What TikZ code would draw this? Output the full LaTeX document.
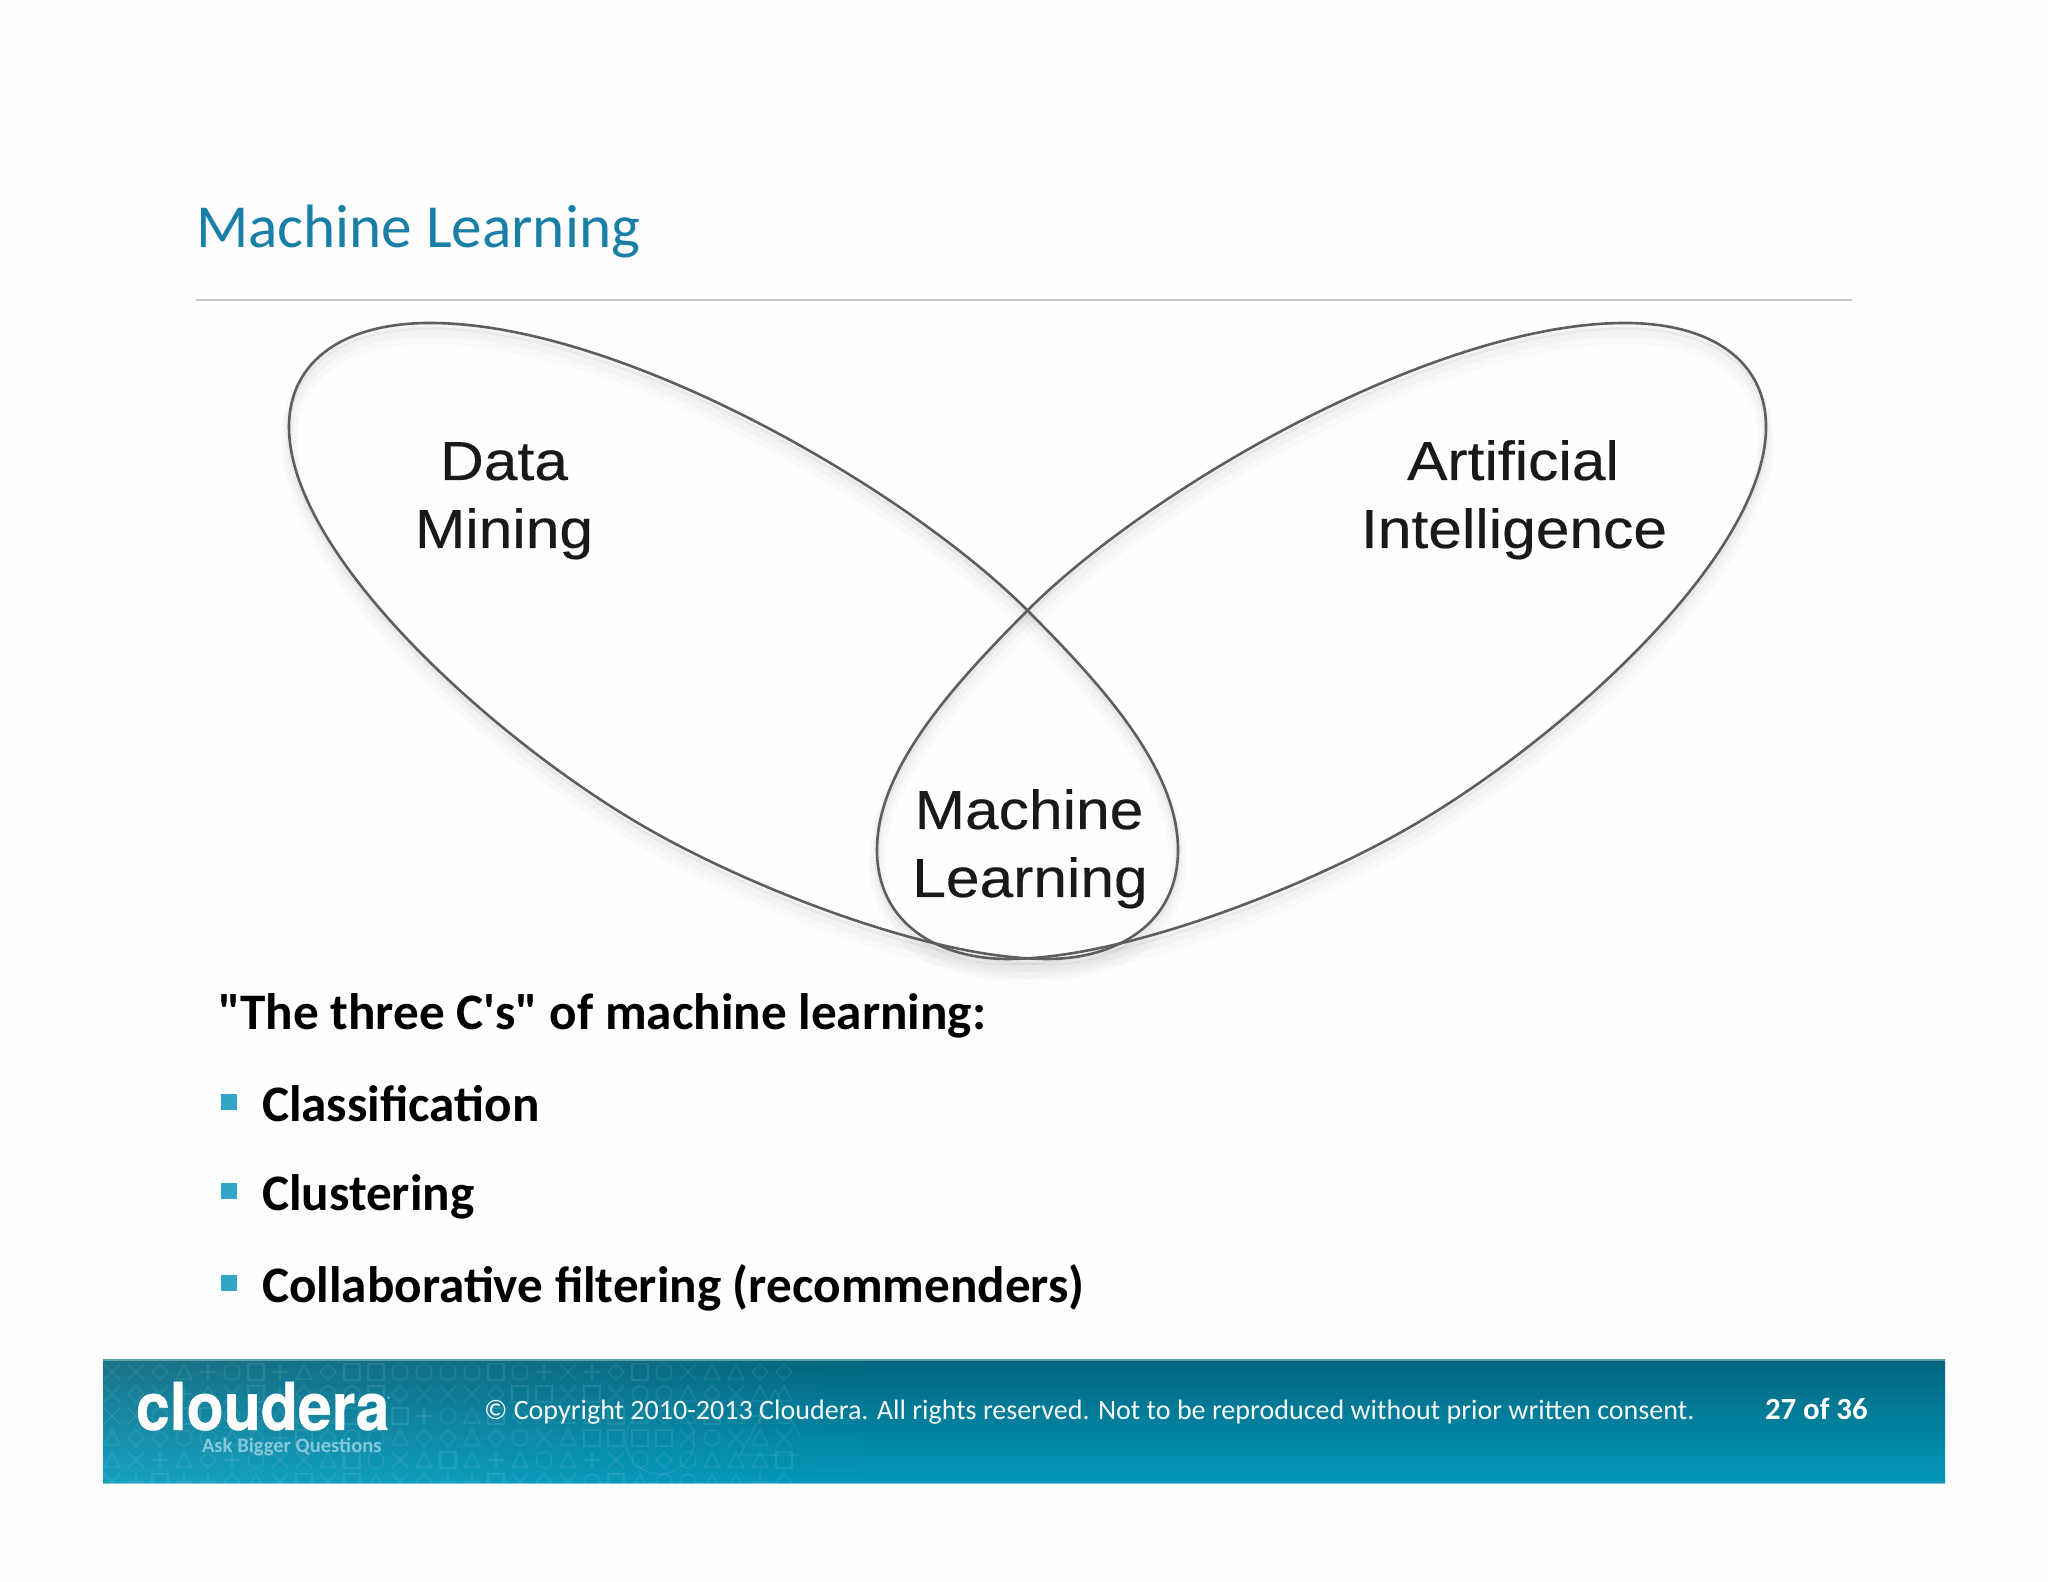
\documentclass[tikz,border=0pt]{standalone}
\usepackage{fontspec}
\setmainfont{Carlito}
\newfontfamily\bodyfont{Carlito}
\newfontfamily\venn[FakeStretch=1.1,FakeBold=0.35]{Liberation Sans}
\newfontfamily\logofont[FakeStretch=0.92,FakeBold=0.5]{TeX Gyre Heros}
\definecolor{titleblue}{HTML}{1A7FA6}
\definecolor{bulletblue}{HTML}{33A5C6}
\definecolor{bandtop}{HTML}{03667F}
\definecolor{bandbot}{HTML}{0198BA}
\definecolor{pagewhite}{HTML}{FEFEFE}
\definecolor{ringgray}{HTML}{5E5E5E}
\definecolor{tagcolor}{HTML}{86C8DA}
\newcommand{\petal}{(289,427) .. controls (289,360) and (345,323) .. (430,323)
  .. controls (620,323) and (905,488) .. (1027,610)
  .. controls (1105,688) and (1178,770) .. (1178,850)
  .. controls (1178,925) and (1115,959) .. (1047,959)
  .. controls (930,959) and (750,887) .. (650,830)
  .. controls (500,745) and (289,557) .. (289,427) -- cycle}
\tikzset{
  x=0.5pt,y=0.5pt,
  txt/.style={inner sep=0pt,outer sep=0pt,anchor=base west},
  bodytext/.style={txt,font=\bodyfont\fontsize{25.6}{30}\selectfont\bfseries,text=black},
  vennlabel/.style={inner sep=0pt,outer sep=0pt,anchor=base,font=\venn\fontsize{27.5}{33}\selectfont,text=black!90},
  ring/.style={draw=ringgray,line width=1.3pt},
  halo a/.style={draw=black,opacity=0.018,line width=8pt},
  halo b/.style={draw=black,opacity=0.025,line width=5pt},
  halo c/.style={draw=black,opacity=0.04,line width=2.5pt},
  bulletbox/.style={fill=bulletblue,draw=none,minimum size=8pt,inner sep=0pt,outer sep=0pt,rectangle,anchor=center},
  glyph/.style={draw=white,opacity=0.09,line width=0.6pt},
}
\begin{document}
\begin{tikzpicture}
\useasboundingbox (0,0) rectangle (2048,1582);
\fill[pagewhite] (0,0) rectangle (2048,1582);
% title
\node[txt,font=\fontsize{30.6}{36}\selectfont,text=titleblue] (title) at (196,1582-248) {Machine Learning};
\coordinate (ruleL) at (196,1582-300);
\coordinate (ruleR) at (1852,1582-300);
\draw[draw=black!22,line width=0.7pt] (ruleL) -- (ruleR);
% Venn petals: soft shadows first, then the outlines
\foreach \mir in {1,-1}{
  \begin{scope}[shift={(1027.5,1582)},x=\mir*0.5pt,y=-0.5pt]
    \begin{scope}[shift={(-1027.5,0)}]
      \draw[halo a] [yshift=-6.5pt] \petal;
      \draw[halo b] [yshift=-4.5pt] \petal;
      \draw[halo c] [yshift=-2pt] \petal;
    \end{scope}
  \end{scope}
}
\foreach \mir in {1,-1}{
  \begin{scope}[shift={(1027.5,1582)},x=\mir*0.5pt,y=-0.5pt]
    \begin{scope}[shift={(-1027.5,0)}]
      \draw[ring] \petal;
    \end{scope}
  \end{scope}
}
\node[vennlabel] (data) at (504,1582-480) {Data};
\node[vennlabel] (mining) at (504,1582-548) {Mining};
\node[vennlabel] (art) at (1513,1582-480) {Artificial};
\node[vennlabel] (intel) at (1514,1582-548) {Intelligence};
\node[vennlabel] (mach) at (1029,1582-829) {Machine};
\node[vennlabel] (lear) at (1030,1582-897) {Learning};
% body
\node[bodytext] (head) at (218,1582-1029.5) {"The three C's" of machine learning:};
\node[bulletbox] (b1) at (229,1582-1102) {};
\node[bulletbox] (b2) at (229,1582-1191) {};
\node[bulletbox] (b3) at (229,1582-1283) {};
\node[bodytext] (t1) at (262,1582-1121.5) {Classification};
\node[bodytext] (t2) at (262,1582-1210.5) {Clustering};
\node[bodytext] (t3) at (262,1582-1302.5) {Collaborative filtering (recommenders)};
% banner
\shade[top color=bandtop,bottom color=bandbot] (103,1582-1360) rectangle (1945,1582-1484);
\foreach \i in {0,...,39}{
  \pgfmathsetmacro{\op}{0.09*(1-\i/40)}
  \fill[white,opacity=\op] (103+\i*20,1582-1360) rectangle (123+\i*20,1582-1484);
}
\begin{scope}
\clip (103,1582-1360) rectangle (800,1582-1484);
\pgfmathsetseed{11}
\foreach \r in {0,...,5}{
  \foreach \c in {0,...,28}{
    \pgfmathtruncatemacro{\k}{random(0,5)}
    \pgfmathsetmacro{\gx}{112+\c*24}
    \pgfmathsetmacro{\gy}{1582-1372-\r*22}
    \ifcase\k
      \draw[glyph] (\gx,\gy) circle (8);
    \or
      \draw[glyph] (\gx-8,\gy-8) rectangle (\gx+8,\gy+8);
    \or
      \draw[glyph] (\gx-8,\gy-7) -- (\gx+8,\gy-7) -- (\gx,\gy+8) -- cycle;
    \or
      \draw[glyph] (\gx-8,\gy-8) -- (\gx+8,\gy+8) (\gx-8,\gy+8) -- (\gx+8,\gy-8);
    \or
      \draw[glyph] (\gx-8,\gy) -- (\gx+8,\gy) (\gx,\gy-8) -- (\gx,\gy+8);
    \or
      \draw[glyph] (\gx-8,\gy) -- (\gx,\gy+8) -- (\gx+8,\gy) -- (\gx,\gy-8) -- cycle;
    \fi
  }
}
\draw[glyph] (660,1582-1440) circle (34);
\draw[glyph] (740,1582-1455) -- (775,1582-1390) -- (810,1582-1455) -- cycle;
\end{scope}
\draw[draw=white,opacity=0.35,line width=0.6pt] (103,1582-1360) -- (1945,1582-1360);
\draw[draw=white,opacity=0.45,line width=0.6pt] (103,1582-1484) -- (1945,1582-1484);
\node[txt,font=\logofont\fontsize{33}{34}\selectfont\bfseries,text=white] (logo) at (136,1582-1430) {cloudera};
\node[txt,font=\fontsize{4}{5}\selectfont,text=white!75!bandtop] (reg) at (387,1582-1403) {®};
\node[txt,font=\bodyfont\fontsize{10.3}{12}\selectfont\bfseries,text=tagcolor] (tag) at (202,1582-1453) {Ask Bigger Questions};
\node[txt,font=\fontsize{14.03}{16}\selectfont,text=white!95!bandtop] (copy) at (484,1582-1420) {© Copyright 2010-2013 Cloudera. All rights reserved. Not to be reproduced without prior written consent.};
\node[txt,font=\fontsize{15.4}{18}\selectfont\bfseries,text=white] (page) at (1765,1582-1420) {27 of 36};
\end{tikzpicture}
\end{document}
